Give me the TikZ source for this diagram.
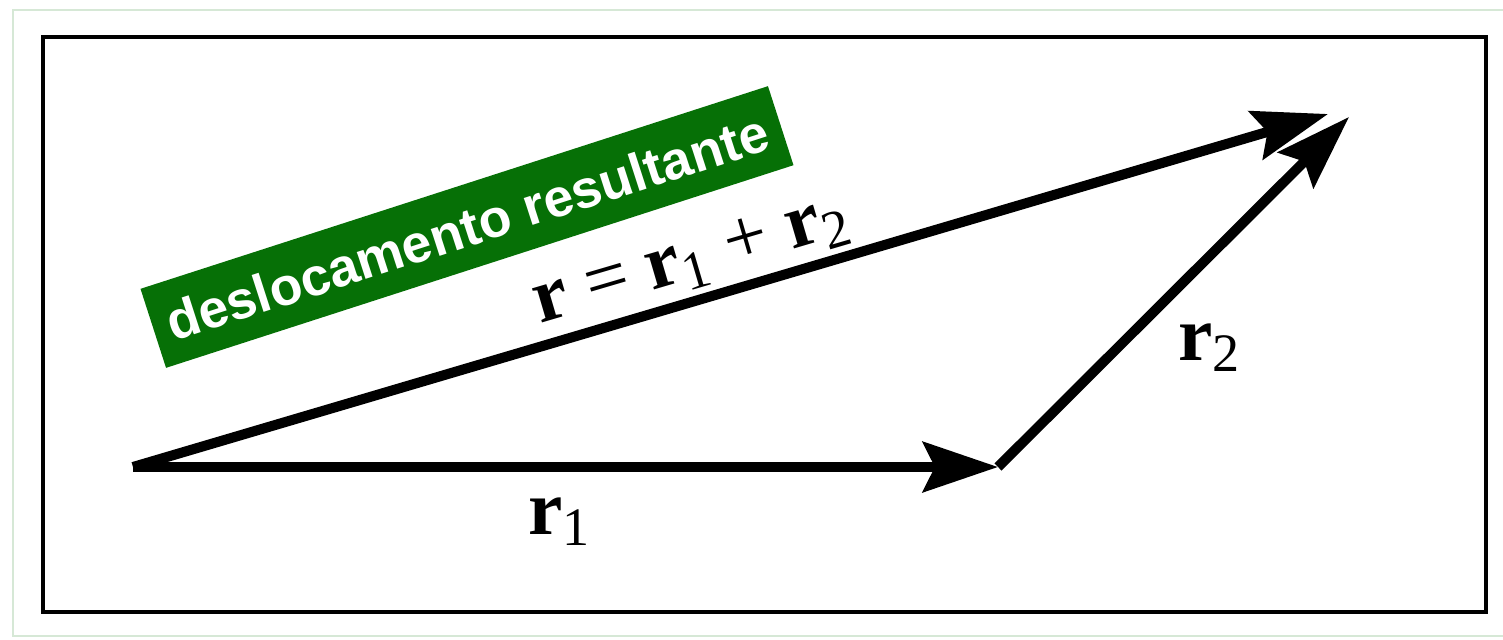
\documentclass[tikz,border=0pt]{standalone}
\usepackage{fontspec}
\setmainfont{Liberation Serif}
\newfontfamily\labelsans{Liberation Sans}
\usetikzlibrary{arrows.meta}
\definecolor{boxgreen}{RGB}{6,112,6}
\definecolor{framegreen}{RGB}{214,232,214}
\begin{document}
\begin{tikzpicture}[x=0.01cm, y=-0.01cm,
  vec/.style={line width=2.85pt, -{Stealth[length=0.75cm, width=0.5cm, inset=0.12cm]}},
  lab/.style={inner sep=0pt, font=\fontsize{22}{26}\selectfont},
  greenbox/.style={fill=boxgreen, text=white, inner sep=0pt,
    minimum width=6.59cm, minimum height=0.83cm,
    font=\labelsans\bfseries\fontsize{15.2}{18}\selectfont}]
\useasboundingbox (0,0) rectangle (1503,639);
\begin{scope}
\clip (0,0) rectangle (1503,639);
\draw[framegreen, line width=0.6pt] (13,10) rectangle (1520,636);
\end{scope}
\draw[line width=1.4pt] (43,37) rectangle (1486,612);
\coordinate (O) at (133,467);
\coordinate (A) at (998,467);
\coordinate (B) at (1349,117);
\coordinate (C) at (1328,114);
\draw[vec] (O) -- (A);
\draw[vec] (A) -- (B);
\draw[vec] (O) -- (C);
\node[lab] (l1) at (560,522) {\textbf{r}\textsubscript{1}};
\node[lab] (l2) at (1210,348) {\textbf{r}\textsubscript{2}};
\node[lab, rotate=16.4] (l) at (692,262) {\textbf{r} = \textbf{r}\textsubscript{1} + \textbf{r}\textsubscript{2}};
\node[greenbox, rotate=17.9] (g) at (467,227) {deslocamento resultante};
\end{tikzpicture}
\end{document}
